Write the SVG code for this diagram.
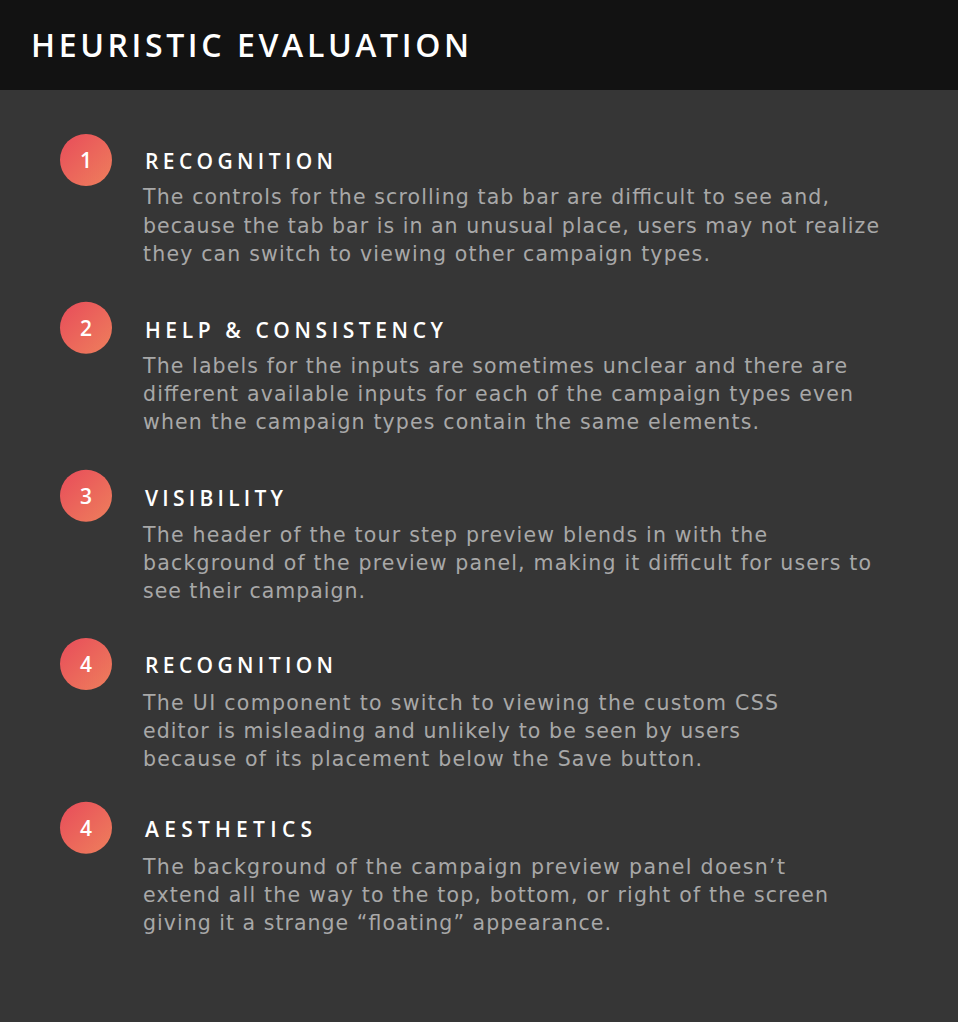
<svg xmlns="http://www.w3.org/2000/svg" width="958" height="1022" viewBox="0 0 958 1022">
<defs>
<linearGradient id="badge" x1="0" y1="0" x2="1" y2="1">
<stop offset="0" stop-color="#e84c5a"/>
<stop offset="1" stop-color="#ee7f5c"/>
</linearGradient>
<style>
.title{font-family:"Open Sans","Liberation Sans",sans-serif;font-weight:600;font-size:32px;fill:#ffffff;}
.head{font-family:"Open Sans","Liberation Sans",sans-serif;font-weight:600;font-size:21px;fill:#ffffff;}
.num{font-family:"Open Sans","Liberation Sans",sans-serif;font-weight:600;font-size:21px;fill:#ffffff;text-anchor:middle;}
.body{font-family:"DejaVu Sans","Liberation Sans",sans-serif;font-size:20.5px;fill:#a8a8a8;}
.badge{fill:url(#badge);}
</style>
</defs>
<rect x="0" y="0" width="958" height="1022" fill="#363636"/>
<g id="header">
<rect x="0" y="0" width="958" height="90" fill="#121212"/>
<text class="title" x="31" y="56.7" textLength="438" lengthAdjust="spacing">HEURISTIC EVALUATION</text>
</g>
<g id="item1">
<circle class="badge" cx="86" cy="160" r="26"/>
<text class="num" x="86" y="168">1</text>
<text class="head" x="145" y="169.3" textLength="188" lengthAdjust="spacing">RECOGNITION</text>
<text class="body" x="143" y="204.3" textLength="686" lengthAdjust="spacing">The controls for the scrolling tab bar are difficult to see and,</text>
<text class="body" x="143" y="232.5" textLength="736" lengthAdjust="spacing">because the tab bar is in an unusual place, users may not realize</text>
<text class="body" x="143" y="260.5" textLength="567" lengthAdjust="spacing">they can switch to viewing other campaign types.</text>
</g>
<g id="item2">
<circle class="badge" cx="86" cy="327.7" r="26"/>
<text class="num" x="86" y="335.7">2</text>
<text class="head" x="145" y="337.7" textLength="298" lengthAdjust="spacing">HELP &amp; CONSISTENCY</text>
<text class="body" x="143" y="373.3" textLength="704" lengthAdjust="spacing">The labels for the inputs are sometimes unclear and there are</text>
<text class="body" x="143" y="401.3" textLength="710" lengthAdjust="spacing">different available inputs for each of the campaign types even</text>
<text class="body" x="143" y="429.3" textLength="616" lengthAdjust="spacing">when the campaign types contain the same elements.</text>
</g>
<g id="item3">
<circle class="badge" cx="86" cy="495.7" r="26"/>
<text class="num" x="86" y="503.7">3</text>
<text class="head" x="145" y="505.7" textLength="138" lengthAdjust="spacing">VISIBILITY</text>
<text class="body" x="143" y="542.3" textLength="624" lengthAdjust="spacing">The header of the tour step preview blends in with the</text>
<text class="body" x="143" y="570.3" textLength="728" lengthAdjust="spacing">background of the preview panel, making it difficult for users to</text>
<text class="body" x="143" y="598.3" textLength="222" lengthAdjust="spacing">see their campaign.</text>
</g>
<g id="item4">
<circle class="badge" cx="86" cy="664" r="26"/>
<text class="num" x="86" y="672">4</text>
<text class="head" x="145" y="673.3" textLength="188" lengthAdjust="spacing">RECOGNITION</text>
<text class="body" x="143" y="710" textLength="635" lengthAdjust="spacing">The UI component to switch to viewing the custom CSS</text>
<text class="body" x="143" y="738" textLength="597" lengthAdjust="spacing">editor is misleading and unlikely to be seen by users</text>
<text class="body" x="143" y="766" textLength="559" lengthAdjust="spacing">because of its placement below the Save button.</text>
</g>
<g id="item5">
<circle class="badge" cx="86" cy="827.7" r="26"/>
<text class="num" x="86" y="835.7">4</text>
<text class="head" x="145" y="837" textLength="167" lengthAdjust="spacing">AESTHETICS</text>
<text class="body" x="143" y="874" textLength="642" lengthAdjust="spacing">The background of the campaign preview panel doesn’t</text>
<text class="body" x="143" y="902" textLength="685" lengthAdjust="spacing">extend all the way to the top, bottom, or right of the screen</text>
<text class="body" x="143" y="930" textLength="468" lengthAdjust="spacing">giving it a strange “floating” appearance.</text>
</g>
</svg>
